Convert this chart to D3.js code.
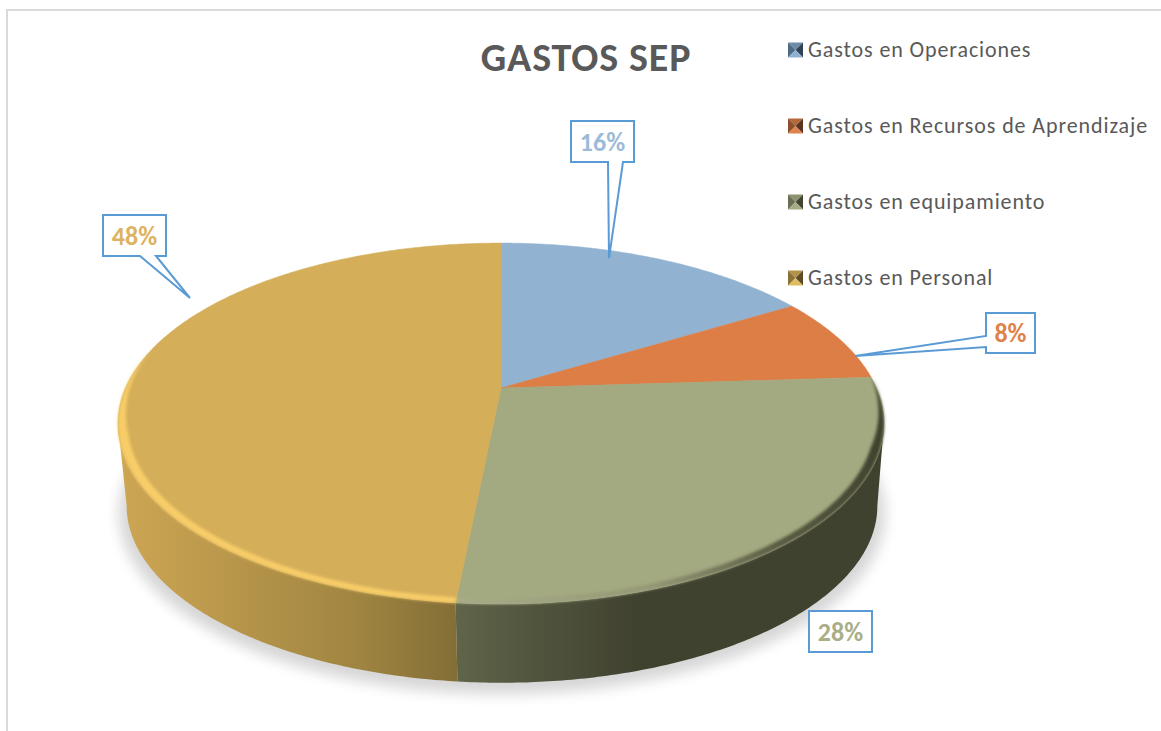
<!DOCTYPE html>
<html>
<head>
<meta charset="utf-8">
<script src="https://cdn.jsdelivr.net/npm/d3@7"></script>
<style>
  html, body { margin: 0; padding: 0; background: #fff; }
  svg { display: block; }
  text { font-family: Carlito, Lato, "Noto Sans", sans-serif; }
</style>
</head>
<body>
<div id="chart"></div>
<script>
// Chart data
const chartTitle = "GASTOS SEP";
const categories = ["Gastos en Operaciones", "Gastos en Recursos de Aprendizaje", "Gastos en equipamiento", "Gastos en Personal"];
const shares = [16.3, 7.7, 27.55, 48.45];
const sliceColors = ["#92b2d1", "#dc7e46", "#a3a980", "#d4ae59"];
const labelColors = ["#9dbbd8", "#df8349", "#a9ae88", "#dcb360"];

// Chart options
const width = 1161, height = 731;
const pieCfg = {
  cx: 501, cy: 388,   //Where the slices meet on the top face
  rx: 375.5, ry: 173.5, //Radii before the perspective
  tilt: 0.197,        //Near edge looks bigger than the far edge
  depth: 83,          //Height of the disc
  bottomScale: 0.98,  //Lower rim is a bit further away
  bottomShift: 1,
  bevel: 0.025        //Width of the bevel, part of the radius
};
// Callout boxes, tip is where the tail ends
const callouts = [
  {x: 571, y: 121, w: 63, h: 41, tail: [[608, 162], [609, 258], [623, 162]]},
  {x: 986, y: 313, w: 49, h: 40, tail: [[986, 336], [855, 356], [986, 347]]},
  {x: 809, y: 611, w: 63, h: 41, tail: null},
  {x: 103, y: 215, w: 63, h: 41, tail: [[140, 256], [190, 298], [156, 256]]}
];
const legendX = 788, legendRows = [50, 126, 202, 278], keySize = 15;

const svg = d3.select("#chart").append("svg").attr("width", width).attr("height", height);
const defs = svg.append("defs");

function addBlur(id, dev) {
  defs.append("filter").attr("id", id)
    .attr("x", "-10%").attr("y", "-10%").attr("width", "120%").attr("height", "120%")
    .append("feGaussianBlur").attr("stdDeviation", dev);
}
addBlur("soft", 1.5);
addBlur("softer", 7);

function addGradient(id, x1, x2, stops) {
  const g = defs.append("linearGradient").attr("id", id)
    .attr("gradientUnits", "userSpaceOnUse")
    .attr("x1", x1).attr("x2", x2).attr("y1", 0).attr("y2", 0);
  stops.forEach(s => g.append("stop").attr("offset", s[0]).attr("stop-color", s[1]));
}
addGradient("side-gold", 120, 457, [[0, "#cda653"], [0.25, "#bd9a4d"], [0.7, "#a08541"], [1, "#836e37"]]);
addGradient("side-olive", 457, 885, [[0, "#606449"], [0.2, "#50533c"], [0.42, "#404230"], [1, "#404230"]]);
addGradient("side-dark", 457, 885, [[0, "#404230"], [1, "#404230"]]);
addGradient("rim-olive", 457, 885, [[0, "#a8ab87"], [0.45, "#959876"], [0.75, "#5a5c44"], [1, "#3f412d"]]);

// Chart frame, only top and left are visible
svg.append("path")
  .attr("d", "M7,731V10H" + width)
  .attr("fill", "none").attr("stroke", "#d9d9d9").attr("stroke-width", 2);

// Circle to screen, angle is clockwise from the top
function project(angle, scale, dy, dx) {
  const x = Math.sin(angle), y = -Math.cos(angle);
  const w = 1 - pieCfg.tilt * y;
  return [pieCfg.cx + (dx || 0) + scale * pieCfg.rx * x / w, pieCfg.cy + dy + scale * pieCfg.ry * y / w];
}
function arcPoints(a0, a1, scale, dy, dx) {
  const n = Math.max(2, Math.ceil(Math.abs(a1 - a0) / 0.01));
  return d3.range(n + 1).map(i => project(a0 + (a1 - a0) * i / n, scale, dy, dx));
}
const pathLine = d3.line();

const slices = d3.pie().sort(null).value(d => d)(shares);
const fullAngle = Math.PI * 2;
const visFrom = Math.acos(-pieCfg.tilt), visTo = fullAngle - visFrom;

// Shadow under the disc
svg.append("path")
  .attr("d", pathLine(arcPoints(0, fullAngle, 1.0, pieCfg.depth + 7, pieCfg.bottomShift)) + "Z")
  .attr("fill", "#000").attr("opacity", 0.16).attr("filter", "url(#softer)");

// Outline of the disc side
function sidePath(a0, a1) {
  const top = arcPoints(a0, a1, 1, 0);
  const bottom = arcPoints(a1, a0, pieCfg.bottomScale, pieCfg.depth, pieCfg.bottomShift);
  return pathLine(top.concat(bottom)) + "Z";
}

// Side walls, only the front part can be seen
const sideFills = [null, "url(#side-dark)", "url(#side-olive)", "url(#side-gold)"];
slices.forEach((s, i) => {
  const a0 = Math.max(s.startAngle, visFrom), a1 = Math.min(s.endAngle, visTo);
  if (a1 <= a0) return;
  svg.append("path").attr("d", sidePath(a0, a1)).attr("fill", sideFills[i]);
});

// Top face
svg.selectAll(".slice")
  .data(slices)
  .enter()
  .append("path")
  .attr("class", "slice")
  .attr("d", d => pathLine([[pieCfg.cx, pieCfg.cy]].concat(arcPoints(d.startAngle, d.endAngle, 1, 0))) + "Z")
  .attr("fill", (d, i) => sliceColors[i])
  .attr("stroke", (d, i) => sliceColors[i])
  .attr("stroke-width", 0.5);

// Bevel along the front of the rim, tapers off towards the back
function bevelPath(a0, a1, taperStart, taperEnd) {
  const outer = arcPoints(a0, a1, 1, 0);
  const inner = d3.range(outer.length).map(i => {
    const t = i / (outer.length - 1);
    const a = a0 + (a1 - a0) * t;
    let f = 1;
    if (taperStart) f = Math.min(f, (a - a0) / 0.4);
    if (taperEnd) f = Math.min(f, (a1 - a) / 0.5);
    return project(a, 1 - pieCfg.bevel * f, 0);
  }).reverse();
  return pathLine(outer.concat(inner)) + "Z";
}
svg.append("path")
  .attr("d", bevelPath(slices[2].startAngle, slices[2].endAngle, true, false))
  .attr("fill", "url(#rim-olive)")
  .attr("filter", "url(#soft)");
svg.append("path")
  .attr("d", bevelPath(slices[3].startAngle, 4.95, false, true))
  .attr("fill", "#f8cd68")
  .attr("filter", "url(#soft)");

// Data labels with callouts
const percent = d3.format(".0%");
const callout = svg.selectAll(".callout")
  .data(callouts)
  .enter()
  .append("g")
  .attr("class", "callout");

callout.append("path")
  .attr("d", d => {
    const box = [[d.x, d.y], [d.x + d.w, d.y], [d.x + d.w, d.y + d.h], [d.x, d.y + d.h]];
    if (!d.tail) return pathLine(box) + "Z";
    // Tail leaves from the bottom edge or from the left edge
    if (d.tail[0][0] === d.x) {
      return pathLine([box[0], box[1], box[2], box[3], d.tail[2], d.tail[1], d.tail[0]]) + "Z";
    }
    return pathLine([box[0], box[1], box[2], d.tail[2], d.tail[1], d.tail[0], box[3]]) + "Z";
  })
  .attr("fill", "#fff")
  .attr("stroke", "#5b9bd5")
  .attr("stroke-width", 2)
  .attr("stroke-linejoin", "miter");

callout.append("text")
  .attr("x", d => d.x + d.w / 2)
  .attr("y", d => d.y + d.h / 2 + 9)
  .attr("text-anchor", "middle")
  .attr("font-size", 26)
  .attr("font-weight", 700)
  .attr("fill", (d, i) => labelColors[i])
  .text((d, i) => percent(shares[i] / d3.sum(shares)));

// Title
svg.append("text")
  .attr("x", 586)
  .attr("y", 71)
  .attr("text-anchor", "middle")
  .attr("font-size", 40)
  .attr("font-weight", 700)
  .attr("letter-spacing", 0.9)
  .attr("fill", "#595959")
  .text(chartTitle);

// Legend, each key is a small bevelled square
const keyShades = [
  ["#6f8ba8", "#4f6a85", "#2f4256", "#8fb0cf"],
  ["#b5683a", "#8f4f2a", "#5a3420", "#dd8350"],
  ["#8d9270", "#6a6e52", "#42452f", "#a6ab85"],
  ["#b39348", "#8a7237", "#5c4c25", "#e0bb62"]
];
const legend = svg.selectAll(".legend")
  .data(categories)
  .enter()
  .append("g")
  .attr("class", "legend")
  .attr("transform", (d, i) => "translate(" + legendX + "," + legendRows[i] + ")");

const k = keySize, m = keySize / 2;
const keyFacets = [
  [[0, 0], [k, 0], [m, m]],
  [[0, 0], [m, m], [0, k]],
  [[k, 0], [k, k], [m, m]],
  [[0, k], [m, m], [k, k]]
];
legend.each(function(d, i) {
  const g = d3.select(this);
  keyFacets.forEach((f, j) => {
    g.append("path")
      .attr("d", pathLine(f.map(p => [p[0], p[1] - m])) + "Z")
      .attr("fill", keyShades[i][j]);
  });
});
legend.append("text")
  .attr("x", 20)
  .attr("y", 7)
  .attr("font-size", 22)
  .attr("letter-spacing", 0.9)
  .attr("fill", "#595959")
  .text(d => d);
</script>
</body>
</html>
